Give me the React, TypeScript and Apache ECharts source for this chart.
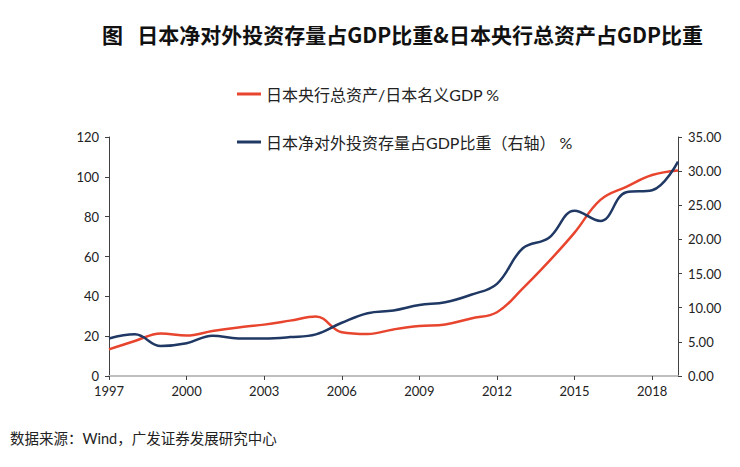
import React, { useEffect, useRef } from "react";
import * as echarts from "echarts";

// Data
const years = [
  "1997", "1998", "1999", "2000", "2001", "2002", "2003", "2004", "2005", "2006", "2007", "2008",
  "2009", "2010", "2011", "2012", "2013", "2014", "2015", "2016", "2017", "2018", "2019",
];
const bojAssetsToGdp = [
  13.4, 17.6, 21.4, 20.3, 22.6, 24.4, 25.8, 27.8, 29.9, 22.0, 21.1, 23.4,
  25.1, 25.9, 28.9, 32.0, 44.0, 57.4, 72.0, 88.4, 95.0, 100.9, 103.2,
];
const netForeignInvestToGdp = [
  5.5, 6.1, 4.4, 4.8, 5.9, 5.5, 5.5, 5.7, 6.1, 7.8, 9.2, 9.6,
  10.4, 10.8, 11.9, 13.5, 18.7, 20.2, 24.2, 22.7, 26.9, 27.2, 31.4,
];
const seriesNames = ["日本央行总资产/日本名义GDP %", "日本净对外投资存量占GDP比重（右轴） %"];

const titleText = "图   日本净对外投资存量占GDP比重&日本央行总资产占GDP比重";
const sourceText = "数据来源：Wind，广发证券发展研究中心";

const FONT = "Lato, 'Noto Sans CJK SC', sans-serif";
const CJK = "'Noto Sans CJK SC', sans-serif";

const App: React.FC = () => {
  const chartRef = useRef<HTMLDivElement>(null);

  useEffect(() => {
    if (!chartRef.current) return;
    const chart = echarts.init(chartRef.current, null, { renderer: "svg" });

    const options = {
      animation: false,
      backgroundColor: "#ffffff",
      title: {
        text: titleText,
        left: 97,
        top: 18,
        textStyle: { fontFamily: CJK, fontSize: 21, fontWeight: "bold", color: "#111" },
      },
      legend: {
        orient: "vertical",
        left: 232,
        top: 81,
        itemWidth: 24,
        itemHeight: 3,
        itemGap: 32,
        icon: "rect",
        textStyle: { fontFamily: FONT, fontSize: 16, color: "#222" },
        data: seriesNames,
      },
      grid: { left: 109, right: 62, top: 137, bottom: 91 },
      xAxis: {
        type: "category",
        data: years,
        boundaryGap: false,
        axisLine: { lineStyle: { color: "#bfbfbf", width: 2 } },
        axisTick: { interval: 2, length: 4, lineStyle: { color: "#404040" } },
        axisLabel: { interval: 2, fontFamily: FONT, fontSize: 13, color: "#222", margin: 8 },
      },
      yAxis: [
        {
          type: "value",
          min: 0,
          max: 120,
          interval: 20,
          axisLine: { show: true, lineStyle: { color: "#404040" } },
          axisTick: { show: true, length: 4, lineStyle: { color: "#404040" } },
          axisLabel: { fontFamily: FONT, fontSize: 13, color: "#222", margin: 10 },
          splitLine: { show: false },
        },
        {
          type: "value",
          min: 0,
          max: 35,
          interval: 5,
          axisLine: { show: true, lineStyle: { color: "#404040" } },
          axisTick: { show: true, length: 4, lineStyle: { color: "#404040" } },
          axisLabel: {
            fontFamily: FONT,
            fontSize: 13,
            color: "#222",
            margin: 10,
            formatter: (v: number) => v.toFixed(2),
          },
          splitLine: { show: false },
        },
      ],
      series: [
        {
          name: seriesNames[0],
          type: "line",
          yAxisIndex: 0,
          data: bojAssetsToGdp,
          smooth: 0.4,
          showSymbol: false,
          lineStyle: { color: "#e8452f", width: 2.5 },
          itemStyle: { color: "#e8452f" },
        },
        {
          name: seriesNames[1],
          type: "line",
          yAxisIndex: 1,
          data: netForeignInvestToGdp,
          smooth: 0.4,
          showSymbol: false,
          lineStyle: { color: "#1f3864", width: 2.5 },
          itemStyle: { color: "#1f3864" },
        },
      ],
      graphic: [
        {
          type: "text",
          left: 10,
          top: 431,
          style: { text: sourceText, fontFamily: FONT, fontSize: 14.5, fill: "#222" },
        },
      ],
    };

    chart.setOption(options);

    return () => {
      chart.dispose();
    };
  }, []);

  return (
    <div
      ref={chartRef}
      style={{ position: "fixed", left: 0, top: 0, width: "740px", height: "467px" }}
    />
  );
};

export default App;
